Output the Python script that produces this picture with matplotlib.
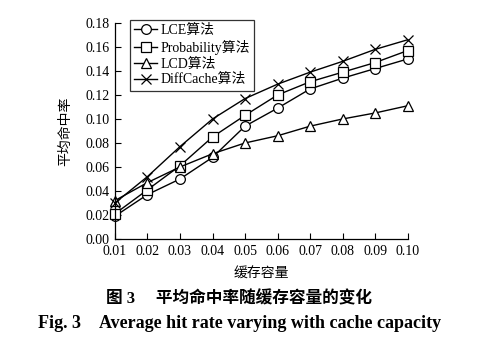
import numpy as np
import matplotlib
matplotlib.use("Agg")
import matplotlib.pyplot as plt

plt.rcParams['font.family'] = ['Liberation Serif', 'Noto Sans CJK SC']

# --- Data ---
capacity = [0.01, 0.02, 0.03, 0.04, 0.05, 0.06, 0.07, 0.08, 0.09, 0.10]
lce = [0.019, 0.037, 0.050, 0.068, 0.094, 0.109, 0.125, 0.134, 0.142, 0.150]
probability = [0.021, 0.041, 0.061, 0.085, 0.103, 0.120, 0.131, 0.139, 0.147, 0.157]
lcd = [0.032, 0.047, 0.060, 0.071, 0.080, 0.086, 0.094, 0.100, 0.105, 0.111]
diffcache = [0.030, 0.052, 0.077, 0.100, 0.117, 0.129, 0.139, 0.148, 0.158, 0.166]

series = [
    ("LCE算法", lce, "o"),
    ("Probability算法", probability, "s"),
    ("LCD算法", lcd, "^"),
    ("DiffCache算法", diffcache, "x"),
]

fig = plt.figure(figsize=(4.79, 3.38), dpi=100)
ax = fig.add_axes([0.240, 0.293, 0.611, 0.639])

for label, vals, m in series:
    ax.plot(capacity, vals, color="black", linewidth=1.0, marker=m,
            markersize=7 if m != "x" else 7.5, markerfacecolor="white",
            markeredgecolor="black", markeredgewidth=0.9, label=label,
            clip_on=False)

ax.set_xlim(0.01, 0.10)
ax.set_ylim(0.0, 0.18)
ax.set_xticks(capacity)
ax.set_xticklabels([f"{v:.2f}" for v in capacity])
yt = np.arange(0, 0.181, 0.02)
ax.set_yticks(yt)
ax.set_yticklabels([f"{v:.2f}" for v in yt])
ax.tick_params(direction="in", length=4, width=0.8, labelsize=10, pad=4)
ax.spines["top"].set_visible(False)
ax.spines["right"].set_visible(False)
for s in ("left", "bottom"):
    ax.spines[s].set_linewidth(0.9)

ax.set_xlabel("缓存容量", fontsize=10, labelpad=7)
ax.set_ylabel("平均命中率", fontsize=10, labelpad=9)

leg = ax.legend(loc="upper left", bbox_to_anchor=(0.05, 1.015), fontsize=10,
                frameon=True, fancybox=False, handlelength=1.7,
                handletextpad=0.2, borderpad=0.3, labelspacing=0.2,
                borderaxespad=0)
leg.get_frame().set_edgecolor("black")
leg.get_frame().set_linewidth(0.9)

fig.text(0.5, 0.102, "图 3　 平均命中率随缓存容量的变化", ha="center",
         fontsize=12, fontweight="bold")
fig.text(0.5, 0.03, "Fig. 3　Average hit rate varying with cache capacity",
         ha="center", fontsize=13, fontweight="bold")

fig.savefig("out.png", dpi=100)
